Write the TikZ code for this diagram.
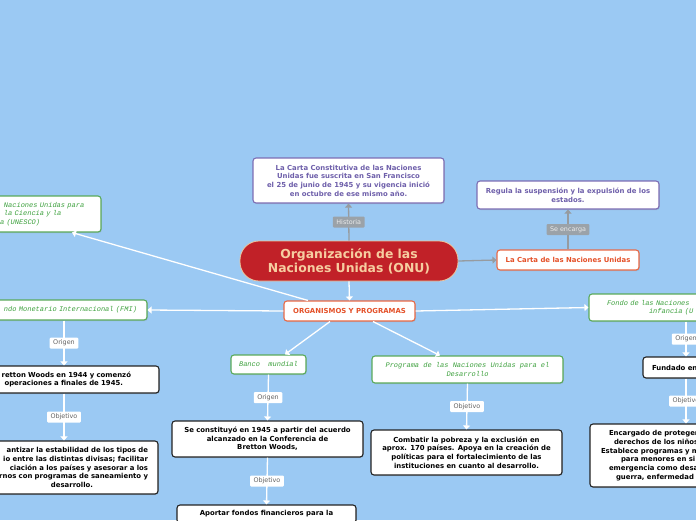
\documentclass[tikz,border=0pt]{standalone}
\usepackage{fontspec}
\setmainfont{DejaVu Sans}
\newfontfamily\monoit{Liberation Mono}
\usetikzlibrary{arrows.meta,shadows,calc}
\definecolor{bgblue}{RGB}{155,201,243}
\definecolor{onured}{RGB}{193,33,40}
\definecolor{onuedge}{RGB}{235,200,160}
\definecolor{onutext}{RGB}{246,205,160}
\definecolor{purpletext}{RGB}{110,95,170}
\definecolor{purpleedge}{RGB}{125,110,180}
\definecolor{orangetext}{RGB}{228,80,40}
\definecolor{orangeedge}{RGB}{232,105,70}
\definecolor{greenedge}{RGB}{90,170,90}
\definecolor{greentext}{RGB}{60,160,60}
\definecolor{boxblack}{RGB}{35,35,35}
\definecolor{conngray}{RGB}{150,155,160}
\definecolor{lbltext}{RGB}{100,100,100}
\definecolor{lblgray}{RGB}{155,162,168}
\tikzset{
  box/.style={draw, rounded corners=3pt, fill=white, line width=1.1pt, inner ysep=0pt, inner xsep=2pt,
    font=\bfseries\fontsize{6.9}{8.7}\selectfont, align=center,
    drop shadow={opacity=0.25, shadow xshift=0.8pt, shadow yshift=-1pt}},
  blackbox/.style={box, draw=boxblack, text=black},
  purplebox/.style={box, draw=purpleedge, text=purpletext},
  orangebox/.style={box, draw=orangeedge, text=orangetext},
  greenbox/.style={box, draw=greenedge, text=greentext, font=\monoit\itshape\fontsize{7}{8.3}\selectfont},
  mainnode/.style={draw=onuedge, fill=onured, text=onutext, rounded corners=19pt, line width=0.8pt,
    font=\bfseries\fontsize{12.4}{13.8}\selectfont, align=center, inner sep=0pt},
  whiteconn/.style={draw=white, line width=1.3pt, -{Triangle[length=4pt,width=7pt]}},
  grayconn/.style={draw=conngray, line width=1.3pt, -{Triangle[length=4pt,width=7pt]}},
  lbl/.style={fill=white, text=lbltext, font=\fontsize{6.4}{7}\selectfont, minimum height=11pt, inner ysep=0pt, inner xsep=3.5pt, rounded corners=1pt},
  graylbl/.style={lbl, fill=lblgray, text=white!92!black},
}
\begin{document}
\begin{tikzpicture}[x=1pt,y=-1pt]
\useasboundingbox (0,0) rectangle (696,520);
\clip (0,0) rectangle (696,520);
\fill[bgblue] (0,0) rectangle (696,520);

% central
\node[mainnode, minimum width=218pt, minimum height=40pt] (onu) at (349,261) {Organización de las\\Naciones Unidas (ONU)};
\node[purplebox, minimum width=191pt, minimum height=45pt] (cartaconst) at (348.5,180.5)
  {La Carta Constitutiva de las Naciones\\Unidas fue suscrita en San Francisco\\el 25 de junio de 1945 y su vigencia inició\\en octubre de ese mismo año.};
\node[orangebox, minimum width=142pt, minimum height=20pt] (cartanu) at (568,260) {La Carta de las Naciones Unidas};
\node[purplebox, minimum width=182pt, minimum height=28pt] (regula) at (568,195) {Regula la suspensión y la expulsión de los\\estados.};
\node[orangebox, minimum width=131pt, minimum height=20pt] (organismos) at (349.5,311) {ORGANISMOS Y PROGRAMAS};

% left
\node[greenbox, minimum width=104pt, minimum height=36pt, text width=90pt, inner xsep=7pt, align=left] (unesco) at (49,214)
  {Naciones Unidas para\\la Ciencia y la\\\hspace*{-4pt}a (UNESCO)};
\node[greenbox, minimum width=187pt, minimum height=20pt, text width=167pt, inner xsep=10pt, align=right] (fmi) at (53.5,310)
  {ndo Monetario Internacional (FMI)};
\node[blackbox, minimum width=199pt, minimum height=27pt, text width=143pt, inner xsep=28pt, align=right] (fmiorig) at (59.5,379.5)
  {retton Woods en 1944 y comenzó\\operaciones a finales de 1945.\hspace*{8pt}};
\node[blackbox, minimum width=198pt, minimum height=53pt, text width=178pt, inner xsep=10pt, align=right] (fmiobj) at (59,467.5)
  {antizar la estabilidad de los tipos de\hspace*{9pt}\\io entre las distintas divisas; facilitar\hspace*{2pt}\\ciación a los países y asesorar a los\hspace*{6pt}\\rnos con programas de saneamiento y\\desarrollo.\hspace*{55pt}};

% middle
\node[greenbox, minimum width=75pt, minimum height=19pt] (banco) at (268.5,364.5) {Banco\ \ mundial};
\node[blackbox, minimum width=191pt, minimum height=36pt] (bmorig) at (267.5,439)
  {Se constituyó en 1945 a partir del acuerdo\\alcanzado en la Conferencia de\\Bretton Woods,};
\node[blackbox, minimum width=179pt, minimum height=18pt] (bmobj) at (266.5,514) {Aportar fondos financieros para la};
\node[greenbox, minimum width=191pt, minimum height=27pt] (pnud) at (467.5,369.5)
  {Programa de las Naciones Unidas para el\\Desarrollo};
\node[blackbox, minimum width=191pt, minimum height=45pt] (pnudobj) at (466.5,452.5)
  {Combatir la pobreza y la exclusión en\\aprox. 170 países. Apoya en la creación de\\políticas para el fortalecimiento de las\\instituciones en cuanto al desarrollo.};

% right
\node[greenbox, minimum width=201pt, minimum height=27pt, text width=165pt, inner xsep=18pt, align=left] (unicef) at (689.5,307.5)
  {Fondo de las Naciones\\\hspace*{42pt}infancia (U};
\node[blackbox, minimum width=97pt, minimum height=21pt, text width=79pt, inner xsep=9pt, align=left] (unicorig) at (691.5,367.5)
  {Fundado en};
\node[blackbox, minimum width=200pt, minimum height=63pt, text width=178pt, inner xsep=11pt, align=left] (unicobj) at (690,455.5)
  {\hspace*{8pt}Encargado de proteger\\\hspace*{13pt}derechos de los niños\\Establece programas y m\\\hspace*{20pt}para menores en si\\\hspace*{8pt}emergencia como desa\\\hspace*{15pt}guerra, enfermedad};

% connectors
\draw[grayconn] (onu.north) -- node[graylbl]{Historia} (cartaconst.south);
\draw[grayconn] (onu.east) -- (cartanu.west);
\draw[grayconn] (cartanu.north) -- node[graylbl]{Se encarga} (regula.south);
\draw[whiteconn] (onu.south) -- (organismos.north);

\draw[whiteconn] ($(organismos.north)+(-41.5,0)$) -- ($(unesco.south)+(23,0)$);
\draw[whiteconn] (organismos.west) -- (fmi.east);
\draw[whiteconn] ($(organismos.south)+(-19.5,0)$) -- ($(banco.north)+(16.5,0)$);
\draw[whiteconn] ($(organismos.south)+(23.5,0)$) -- ($(pnud.north)+(-27.5,0)$);
\draw[whiteconn] (organismos.east) -- (unicef.west);

\draw[whiteconn] ($(fmi.south)+(10.5,0)$) -- node[lbl]{Origen} ($(fmiorig.north)+(4.5,0)$);
\draw[whiteconn] ($(fmiorig.south)+(4.5,0)$) -- node[lbl]{Objetivo} ($(fmiobj.north)+(5,0)$);

\draw[whiteconn] (banco.south) -- node[lbl]{Origen} (bmorig.north);
\draw[whiteconn] (bmorig.south) -- node[lbl]{Objetivo} (bmobj.north);
\draw[whiteconn] (pnud.south) -- node[lbl]{Objetivo} (pnudobj.north);

\draw[whiteconn] ($(unicef.south)+(-3.5,0)$) -- node[lbl]{Origen} ($(unicorig.north)+(-5.5,0)$);
\draw[whiteconn] ($(unicorig.south)+(-5.5,0)$) -- node[lbl]{Objetivo} ($(unicobj.north)+(-4,0)$);
\end{tikzpicture}
\end{document}
